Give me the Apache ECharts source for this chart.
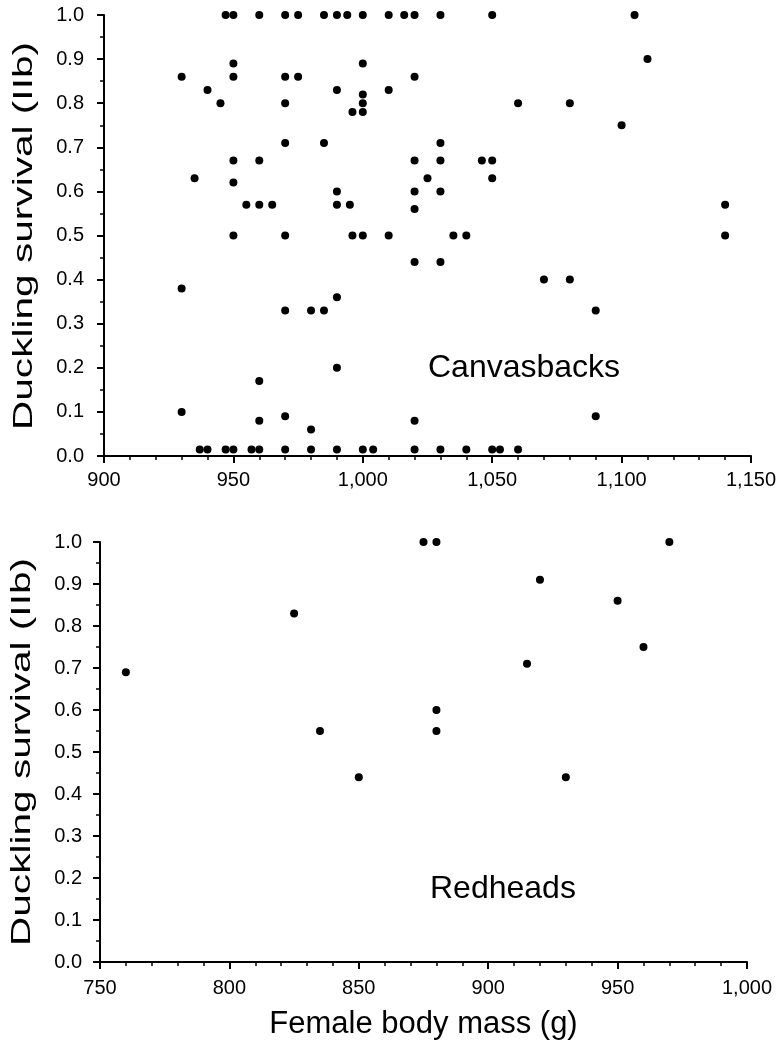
<!DOCTYPE html>
<html>
<head>
<meta charset="utf-8">
<script src="https://cdn.jsdelivr.net/npm/echarts@6/dist/echarts.min.js"></script>
<style>
    body { margin: 0; background: #fff; }
    #main { width: 781px; height: 1043px; }
</style>
</head>
<body>
<div id="main"></div>
<script>
const log = console.log.bind(console)
const e = sel => document.querySelector(sel)

// Canvasbacks: female body mass (g) and duckling survival
const canvasMass = [
    947, 950, 960, 970, 975, 985, 990, 994, 1000, 1010, 1016, 1020, 1030, 1050, 1105,
    1110,
    950, 1000,
    930, 950, 970, 975, 1020,
    940, 990, 1010,
    1000,
    945, 970, 1000, 1060, 1080,
    996, 1000,
    1100,
    970, 985, 1030,
    950, 960, 1020, 1030, 1046, 1050,
    935, 1025, 1050,
    950,
    990, 1020, 1030,
    955, 960, 965, 990, 995, 1140,
    1020,
    950, 970, 996, 1000, 1010, 1035, 1040, 1140,
    1020, 1030,
    1070, 1080,
    930,
    990,
    970, 980, 985, 1090,
    990,
    960,
    930,
    970, 1090,
    960, 1020,
    980,
    937, 940, 947, 950, 957, 960, 970, 980, 990, 1000, 1004, 1020, 1030, 1040, 1050, 1053, 1060,
]
const canvasSurvival = [
    1, 1, 1, 1, 1, 1, 1, 1, 1, 1, 1, 1, 1, 1, 1,
    0.9,
    0.89, 0.89,
    0.86, 0.86, 0.86, 0.86, 0.86,
    0.83, 0.83, 0.83,
    0.82,
    0.8, 0.8, 0.8, 0.8, 0.8,
    0.78, 0.78,
    0.75,
    0.71, 0.71, 0.71,
    0.67, 0.67, 0.67, 0.67, 0.67, 0.67,
    0.63, 0.63, 0.63,
    0.62,
    0.6, 0.6, 0.6,
    0.57, 0.57, 0.57, 0.57, 0.57, 0.57,
    0.56,
    0.5, 0.5, 0.5, 0.5, 0.5, 0.5, 0.5, 0.5,
    0.44, 0.44,
    0.4, 0.4,
    0.38,
    0.36,
    0.33, 0.33, 0.33, 0.33,
    0.2,
    0.17,
    0.1,
    0.09, 0.09,
    0.08, 0.08,
    0.06,
    0.015, 0.015, 0.015, 0.015, 0.015, 0.015, 0.015, 0.015, 0.015,
    0.015, 0.015, 0.015, 0.015, 0.015, 0.015, 0.015, 0.015,
]

// Redheads
const redMass = [760, 825, 835, 850, 875, 880, 880, 880, 915, 920, 930, 950, 960, 970]
const redSurvival = [0.69, 0.83, 0.55, 0.44, 1, 1, 0.6, 0.55, 0.71, 0.91, 0.44, 0.86, 0.75, 1]

const canvasTicks = [900, 1150, 50]
const redTicks = [750, 1000, 50]
const survivalTicks = [0, 1, 0.1]

const zip = (xs, ys) => xs.map((x, i) => [x, ys[i]])

const fmtMass = v => String(v).replace(/\B(?=(\d{3})+(?!\d))/g, ',')

const font = 'Liberation Sans, Arial, Helvetica, sans-serif'
const black = '#000'

const xAxisOf = (gridIndex, ticks, name, margin) => {
    return {
        type: 'value',
        gridIndex: gridIndex,
        min: ticks[0],
        max: ticks[1],
        interval: ticks[2],
        name: name,
        nameLocation: 'middle',
        nameGap: 47,
        nameTextStyle: { color: black, fontSize: 31, fontFamily: font },
        axisLine: { show: true, onZero: false, lineStyle: { color: black, width: 2 } },
        axisTick: { show: true, length: 7, lineStyle: { color: black, width: 2 } },
        minorTick: { show: true, splitNumber: 5, length: 4, lineStyle: { color: black, width: 1.5 } },
        splitLine: { show: false },
        axisLabel: { color: black, fontSize: 20, fontFamily: font, margin: margin, formatter: fmtMass },
    }
}

const yAxisOf = (gridIndex, margin) => {
    return {
        type: 'value',
        gridIndex: gridIndex,
        min: survivalTicks[0],
        max: survivalTicks[1],
        interval: survivalTicks[2],
        axisLine: { show: true, onZero: false, lineStyle: { color: black, width: 2 } },
        axisTick: { show: true, length: 7, lineStyle: { color: black, width: 2 } },
        minorTick: { show: true, splitNumber: 2, length: 4, lineStyle: { color: black, width: 1.5 } },
        splitLine: { show: false },
        axisLabel: { color: black, fontSize: 20, fontFamily: font, margin: margin, formatter: v => v.toFixed(1) },
    }
}

// the y titles in the scan are stretched along their length
const yTitle = (x, y) => {
    return {
        type: 'text',
        x: x,
        y: y,
        rotation: Math.PI / 2,
        scaleX: 1.45,
        style: {
            text: 'Duckling survival (IIb)',
            fontSize: 28,
            fontFamily: font,
            fill: black,
            align: 'center',
            verticalAlign: 'middle',
        },
    }
}

const label = (text, x, y) => {
    return {
        type: 'text',
        x: x,
        y: y,
        style: { text: text, fontSize: 32, fontFamily: font, fill: black, verticalAlign: 'middle' },
    }
}

const drawChart = () => {
    let myChart = echarts.init(e('#main'), null, { renderer: 'canvas' })
    let option = {
        backgroundColor: '#fff',
        animation: false,
        grid: [
            { left: 104, top: 15, width: 647, height: 441 },
            { left: 100, top: 542, width: 647, height: 420 },
        ],
        xAxis: [
            xAxisOf(0, canvasTicks, '', 14),
            xAxisOf(1, redTicks, 'Female body mass (g)', 16),
        ],
        yAxis: [
            yAxisOf(0, 20),
            yAxisOf(1, 18),
        ],
        graphic: [
            yTitle(24, 236),
            yTitle(22, 752),
            label('Canvasbacks', 428, 368),
            label('Redheads', 430, 889),
        ],
        series: [
            {
                name: 'Canvasbacks',
                type: 'scatter',
                xAxisIndex: 0,
                yAxisIndex: 0,
                symbolSize: 8,
                itemStyle: { color: black, opacity: 1 },
                data: zip(canvasMass, canvasSurvival),
            },
            {
                name: 'Redheads',
                type: 'scatter',
                xAxisIndex: 1,
                yAxisIndex: 1,
                symbolSize: 8,
                itemStyle: { color: black, opacity: 1 },
                data: zip(redMass, redSurvival),
            },
        ],
    }
    myChart.setOption(option)
}

const __main = () => {
    drawChart()
}

__main()
</script>
</body>
</html>
